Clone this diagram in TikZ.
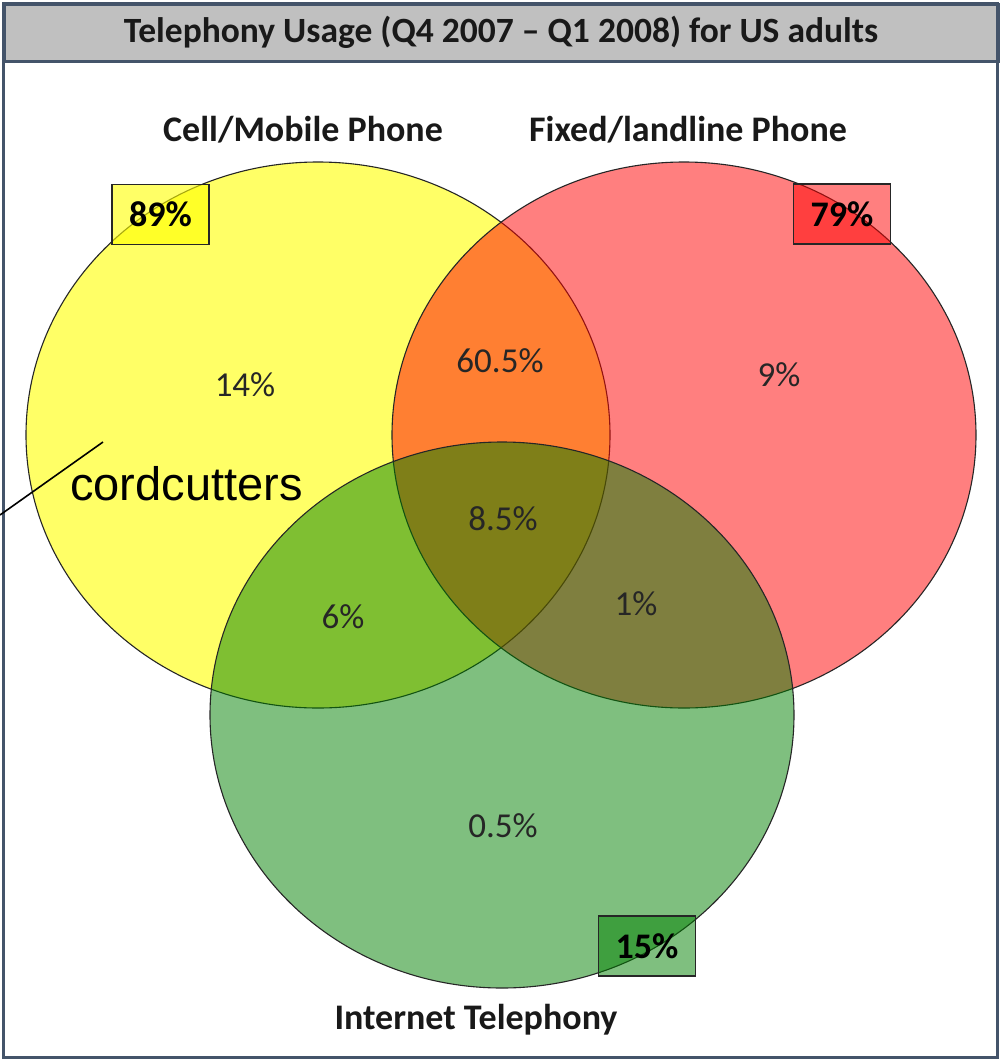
\documentclass[tikz,border=0pt]{standalone}
\usepackage{fontspec}
\setmainfont{Carlito}
\newfontfamily\arialfont{Liberation Sans}
\usetikzlibrary{shapes.geometric}
\definecolor{framec}{RGB}{68,84,106}
\definecolor{titlegray}{RGB}{192,192,192}
\definecolor{cellc}{RGB}{255,255,0}
\definecolor{fixedc}{RGB}{255,0,0}
\definecolor{netc}{RGB}{0,128,0}
\begin{document}
\begin{tikzpicture}[x=1pt,y=-1pt,
  ring/.style={ellipse, draw=black!85, line width=1.1pt, minimum width=584pt, minimum height=546pt, inner sep=0pt},
  tag/.style={draw=black!85, line width=1.5pt, minimum width=97pt, minimum height=60pt, inner sep=0pt, text opacity=1, font=\fontsize{36}{42}\selectfont\bfseries},
  pct/.style={text=black!85, font=\fontsize{35}{42}\selectfont},
  head/.style={text=black!90, font=\fontsize{36}{42}\selectfont\bfseries}]
\useasboundingbox (0,0) rectangle (1002,1061);
\fill[white] (0,0) rectangle (1002,1061);
% frame and title bar
\node[draw=framec, line width=3pt, fill=titlegray, minimum width=994pt, minimum height=57pt, inner sep=0pt, anchor=north west] (titlebar) at (3,3) {};
\draw[framec, line width=3pt] (3,3) rectangle (997,1057);
\node[head, font=\fontsize{35.5}{40}\selectfont\bfseries] (title) at (501,32) {Telephony Usage (Q4 2007 -- Q1 2008) for US adults};
% circles
\node[ring, fill=cellc, fill opacity=0.6] (cell) at (318,435) {};
\node[ring, fill=fixedc, fill opacity=0.5] (fixed) at (684,435) {};
\node[ring, fill=netc, fill opacity=0.5] (net) at (502,715) {};
% headings
\node[head] (cellname) at (303,130) {Cell/Mobile Phone};
\node[head] (fixedname) at (688,130) {Fixed/landline Phone};
\node[head] (netname) at (476,1020) {Internet Telephony};
% tag boxes
\node[tag, fill=cellc, fill opacity=0.6] (celltag) at (160.5,214.5) {89\%};
\node[tag, fill=fixedc, fill opacity=0.5] (fixedtag) at (842,214) {79\%};
\node[tag, fill=netc, fill opacity=0.5] (nettag) at (647,946) {15\%};
% region values
\node[pct] (cellonly) at (245,385) {14\%};
\node[pct] (cellfixed) at (500,361) {60.5\%};
\node[pct] (fixedonly) at (779,375) {9\%};
\node[pct] (allthree) at (503,519) {8.5\%};
\node[pct] (cellnet) at (343,617) {6\%};
\node[pct] (fixednet) at (636,604) {1\%};
\node[pct] (netonly) at (503,826) {0.5\%};
% cordcutters callout
\node[anchor=base west, inner sep=0pt, font=\arialfont\fontsize{47}{54}\selectfont] (cord) at (70,500) {cordcutters};
\coordinate (cutstart) at (103,442);
\coordinate (cutend) at (0,515);
\draw[black, line width=1.6pt] (cutstart) -- (cutend);
\end{tikzpicture}
\end{document}
